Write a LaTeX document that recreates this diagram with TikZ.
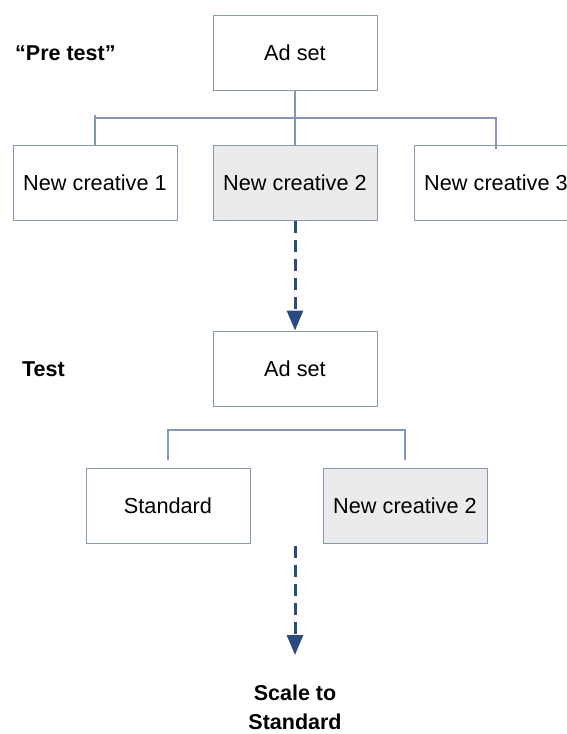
\documentclass[tikz,border=0pt]{standalone}
\usepackage{fontspec}
\setmainfont{Liberation Sans}
\usetikzlibrary{arrows.meta}
\definecolor{boxline}{HTML}{8797B4}
\definecolor{connline}{HTML}{8597B8}
\definecolor{dashblue}{HTML}{2B4A7E}
\definecolor{grayfill}{HTML}{EBEBEB}
\begin{document}
\begin{tikzpicture}[x=1pt,y=-1pt,
  box/.style={draw=boxline, line width=1pt, fill=white, minimum width=164pt, minimum height=75pt, inner sep=0pt, font=\fontsize{21.7}{26}\selectfont},
  hibox/.style={box, fill=grayfill},
  conn/.style={draw=connline, line width=1.2pt},
  dasharrow/.style={draw=dashblue, line width=3pt, dash pattern=on 12pt off 7pt, -{Triangle[length=20pt,width=16pt]}},
  lbl/.style={font=\fontsize{21.5}{29}\selectfont\bfseries, inner sep=0pt, align=center}]
\useasboundingbox (0,0) rectangle (567,734);
\begin{scope}
\clip (0,0) rectangle (567,734);
\node[box] (ad1) at (295,52.5) {Ad set};
\node[box] (b1) at (95,183) {New creative 1};
\node[hibox] (b2) at (295,183) {New creative 2};
\node[box] (b3) at (496,183) {New creative 3};
\node[box] (ad2) at (295,368.5) {Ad set};
\node[box] (std) at (168,506) {Standard};
\node[hibox] (nc) at (405,506) {New creative 2};
\node[lbl, anchor=west] (pre) at (15,53) {“Pre test”};
\node[lbl, anchor=west] (test) at (22,369) {Test};
\node[lbl] (scale) at (295,707) {Scale to\\Standard};
\coordinate (hl) at (95,118);
\coordinate (h2) at (168,430);
\coordinate (arrend) at (295,655);

\draw[conn] (ad1.south) -- (b2.north);
\draw[conn] ([yshift=3pt]b1.north |- hl) -- (b1.north);
\draw[conn] (b1.north |- hl) -- (b3.north |- hl) -- ([yshift=-4pt]b3.north);

\draw[conn] ([yshift=8pt]std.north) -- (std.north |- h2) -- (nc.north |- h2) -- ([yshift=8pt]nc.north);

\draw[dasharrow] (b2.south) -- (ad2.north);
\draw[dasharrow] ([yshift=-2pt]ad2.south |- std.south) -- (arrend);
\end{scope}
\end{tikzpicture}
\end{document}
